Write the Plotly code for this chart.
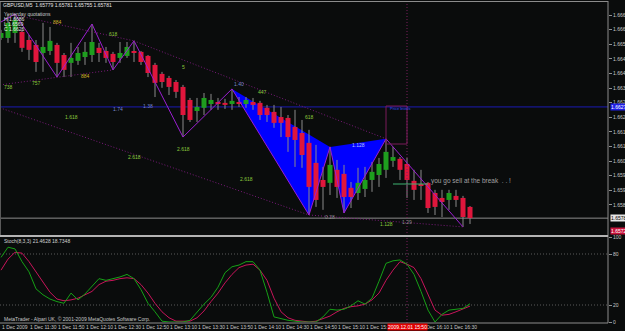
import plotly.graph_objects as go

# ---------------- data ----------------
bars = list(range(68))
opens = [1.66583, 1.66583, 1.66605, 1.66610, 1.66574, 1.66552, 1.66516, 1.66525, 1.66552, 1.66507,
         1.66472, 1.66481, 1.66498, 1.66507, 1.66539, 1.66525, 1.66512, 1.66494, 1.66503, 1.66525,
         1.66521, 1.66503, 1.66463, 1.66423, 1.66405, 1.66387, 1.66365, 1.66307, 1.66258, 1.66272,
         1.66289, 1.66298, 1.66294, 1.66289, 1.66298, 1.66289, 1.66298, 1.66294, 1.66272, 1.66254,
         1.66231, 1.66227, 1.66187, 1.66160, 1.66116, 1.66027, 1.65951, 1.65938, 1.65996, 1.65978,
         1.65916, 1.65893, 1.65911, 1.65951, 1.65973, 1.65996, 1.66036, 1.66045, 1.66022, 1.65947,
         1.65933, 1.65938, 1.65893, 1.65871, 1.65862, 1.65880, 1.65871, 1.65831]
highs = [1.66619, 1.66685, 1.66690, 1.66619, 1.66596, 1.66574, 1.66650, 1.66632, 1.66561, 1.66516,
         1.66561, 1.66543, 1.66565, 1.66645, 1.66561, 1.66543, 1.66521, 1.66565, 1.66565, 1.66570,
         1.66525, 1.66507, 1.66472, 1.66432, 1.66414, 1.66396, 1.66374, 1.66316, 1.66316, 1.66338,
         1.66334, 1.66316, 1.66312, 1.66356, 1.66320, 1.66320, 1.66316, 1.66303, 1.66285, 1.66285,
         1.66276, 1.66240, 1.66263, 1.66218, 1.66174, 1.66107, 1.66009, 1.66098, 1.66040, 1.66018,
         1.65942, 1.66005, 1.66009, 1.66031, 1.66049, 1.66134, 1.66098, 1.66053, 1.66049, 1.65996,
         1.65996, 1.65942, 1.65907, 1.65907, 1.65907, 1.65907, 1.65880, 1.65835]
lows = [1.66574, 1.66561, 1.66561, 1.66521, 1.66485, 1.66432, 1.66432, 1.66507, 1.66409, 1.66409,
        1.66409, 1.66463, 1.66463, 1.66476, 1.66476, 1.66472, 1.66441, 1.66472, 1.66494, 1.66476,
        1.66463, 1.66409, 1.66320, 1.66361, 1.66329, 1.66316, 1.66142, 1.66209, 1.66209, 1.66240,
        1.66263, 1.66263, 1.66267, 1.66263, 1.66276, 1.66272, 1.66263, 1.66218, 1.66209, 1.66183,
        1.66142, 1.66076, 1.66009, 1.66005, 1.65795, 1.65831, 1.65818, 1.65884, 1.65871, 1.65804,
        1.65826, 1.65862, 1.65875, 1.65898, 1.65920, 1.65960, 1.66009, 1.65951, 1.65871, 1.65862,
        1.65862, 1.65804, 1.65795, 1.65786, 1.65818, 1.65831, 1.65742, 1.65755]
closes = [1.66605, 1.66650, 1.66663, 1.66539, 1.66530, 1.66476, 1.66543, 1.66570, 1.66472, 1.66441,
          1.66494, 1.66516, 1.66521, 1.66565, 1.66516, 1.66494, 1.66476, 1.66516, 1.66543, 1.66516,
          1.66476, 1.66427, 1.66383, 1.66387, 1.66365, 1.66343, 1.66240, 1.66218, 1.66276, 1.66316,
          1.66307, 1.66289, 1.66285, 1.66303, 1.66289, 1.66307, 1.66285, 1.66240, 1.66240, 1.66205,
          1.66205, 1.66142, 1.66129, 1.66062, 1.65920, 1.65862, 1.65920, 1.66018, 1.65920, 1.65875,
          1.65875, 1.65938, 1.65951, 1.65987, 1.66022, 1.66076, 1.66053, 1.65996, 1.65951, 1.65907,
          1.65924, 1.65826, 1.65831, 1.65853, 1.65893, 1.65862, 1.65786, 1.65781]

stoch_k = [76, 88, 86, 71, 59, 39, 32, 27, 24, 22, 34, 26, 33, 42, 51, 49, 51, 53, 56, 51,
           38, 22, 12, 1, 0, 0, 0, 2, 12, 21, 29, 41, 58, 65, 67, 71, 71, 61, 35, 6,
           4, 2, 1, 0, 0, 0, 6, 15, 14, 15, 19, 25, 21, 28, 48, 69, 72, 73, 68, 56,
           36, 14, 0, 9, 14, 15, 16, 21.46]
stoch_d = [61, 74, 82, 81, 71, 59, 46, 35, 27, 25, 26, 28, 32, 36, 44, 48, 49, 51, 52, 51,
           44, 34, 22, 12, 5, 1, 1, 1, 5, 13, 24, 34, 46, 56, 64, 67, 68, 61, 49, 28,
           12, 5, 2, 1, 0, 1, 4, 7, 12, 16, 18, 19, 21, 26, 34, 49, 61, 71, 68, 64,
           51, 33, 14, 8, 9, 12, 15, 18.73]

# time labels (the 15:50 label sits under the red crosshair time box)
time_label_bars = [0, 4, 8, 12, 16, 20, 24, 28, 32, 36, 40, 44, 48, 52, 60, 64]
time_labels = ["1 Dec 2009", "1 Dec 11:30", "1 Dec 11:50", "1 Dec 12:10", "1 Dec 12:30", "1 Dec 12:50",
               "1 Dec 13:10", "1 Dec 13:30", "1 Dec 13:50", "1 Dec 14:10", "1 Dec 14:30", "1 Dec 14:50",
               "1 Dec 15:10", "1 Dec 15:30", "1 Dec 16:10", "1 Dec 16:30"]
price_ticks = [1.66685, 1.66620, 1.66555, 1.66490, 1.66425, 1.66360, 1.66295, 1.66230,
               1.66165, 1.66100, 1.66035, 1.65970, 1.65905, 1.65840]
stoch_ticks = [0, 20, 80, 100]
stoch_levels = [20, 80]

zigzag_bars = [0, 2, 8, 13, 16, 19, 26, 33, 44, 47, 49, 55, 66]
zigzag_prices = [1.66654, 1.66690, 1.66409, 1.66645, 1.66441, 1.66570, 1.66142, 1.66356,
                 1.65795, 1.66098, 1.65804, 1.66134, 1.65742]
xab_bars = [33, 44, 47]
xab_prices = [1.66356, 1.65795, 1.66098]
bcd_bars = [47, 49, 55]
bcd_prices = [1.66098, 1.65804, 1.66134]

trend_x0 = [19, 2, -0.14, -0.14, 44]
trend_y0 = [1.66570, 1.66685, 1.66374, 1.66272, 1.65795]
trend_x1 = [55, 19, 16, 44, 66]
trend_y1 = [1.66134, 1.66570, 1.66441, 1.65795, 1.65742]

blue_line_price = 1.66276
bid_price = 1.65781
crosshair_bar = 58
crosshair_price = 1.65724
break_line_bars = [56, 61]
break_line_price = 1.65933
prz_bars = [55, 58]
prz_prices = [1.66111, 1.66280]

label_text = ["884", "738", "757", "884", "618", "5", "1.40", "447", "618", "1.74", "1.38",
              "1.618", "2.618", "2.618", "2.618", "1.128", "0.28", "1.128", "1.29"]
label_bar = [8, 1, 5, 12, 16, 26, 34, 37.3, 44, 16.7, 21, 10, 19, 26, 35, 51, 47, 55, 58]
label_price = [1.66654, 1.66365, 1.66383, 1.66414, 1.66601, 1.66454, 1.66378, 1.66343, 1.66231,
               1.66267, 1.66280, 1.66231, 1.66053, 1.66089, 1.65956, 1.66107, 1.65786, 1.65755, 1.65764]

# ---------------- styling helpers ----------------
W, H = 625, 331
XR = 608 / W
def py(px):
    return 1 - px / H

GOLD, GRN, BLUEG, LBLUE, GRAY = '#d2b428', '#8cc83c', '#7888c8', '#b4c0ff', '#8c8c8c'
label_color = [GOLD, GRN, GRN, GOLD, GRN, GRN, BLUEG, GRN, GRN, BLUEG, BLUEG,
               GRN, GRN, GRN, GRN, LBLUE, GRAY, GRN, GRAY]
FONT = 'Liberation Sans'
BG = '#0a0c0c'
UP, DN = '#1e9e1e', '#e0163c'
DOT = '1px,2px'

fig = go.Figure()

# wicks
wx, wy = [], []
for i, h, l in zip(bars, highs, lows):
    wx += [i, i, None]
    wy += [l, h, None]
fig.add_trace(go.Scatter(x=wx, y=wy, mode='lines', line=dict(color='#8a8a8a', width=1),
                         hoverinfo='skip', xaxis='x', yaxis='y'))
# bodies
for col, cond in ((UP, lambda o, c: c >= o), (DN, lambda o, c: c < o)):
    bx, by = [], []
    for i, o, c in zip(bars, opens, closes):
        if cond(o, c):
            bx += [i, i, None]
            by += [o, c, None]
    fig.add_trace(go.Scatter(x=bx, y=by, mode='lines', line=dict(color=col, width=5),
                             hoverinfo='skip', xaxis='x', yaxis='y'))

# zigzag
fig.add_trace(go.Scatter(x=zigzag_bars, y=zigzag_prices, mode='lines',
                         line=dict(color='#9b1ed2', width=1), hoverinfo='skip', xaxis='x', yaxis='y'))

# stochastic
fig.add_trace(go.Scatter(x=bars, y=stoch_d, mode='lines', line=dict(color='#c8145a', width=1),
                         hoverinfo='skip', xaxis='x2', yaxis='y2'))
fig.add_trace(go.Scatter(x=bars, y=stoch_k, mode='lines', line=dict(color='#16a016', width=1),
                         hoverinfo='skip', xaxis='x2', yaxis='y2'))

shapes = []
# harmonic pattern triangles (background)
for bx_, bp_ in ((xab_bars, xab_prices), (bcd_bars, bcd_prices)):
    path = 'M ' + ' L '.join(f'{a},{b}' for a, b in zip(bx_, bp_)) + ' Z'
    shapes.append(dict(type='path', path=path, xref='x', yref='y', fillcolor='#0000ff',
                       line=dict(color='#0000ff', width=0), layer='below'))
# horizontal lines
shapes.append(dict(type='line', xref='paper', yref='y', x0=0, x1=XR, y0=blue_line_price, y1=blue_line_price,
                   line=dict(color='#1a1ab4', width=1), layer='below'))
shapes.append(dict(type='line', xref='paper', yref='y', x0=0, x1=XR, y0=bid_price, y1=bid_price,
                   line=dict(color='#8c8c8c', width=1), layer='below'))
# trend lines
for a, b, c, d in zip(trend_x0, trend_y0, trend_x1, trend_y1):
    shapes.append(dict(type='line', xref='x', yref='y', x0=a, y0=b, x1=c, y1=d,
                       line=dict(color='#7a1a7a', width=1, dash=DOT)))
# PRZ box
shapes.append(dict(type='rect', xref='x', yref='y', x0=prz_bars[0], x1=prz_bars[1],
                   y0=prz_prices[0], y1=prz_prices[1], line=dict(color='#7a1a5a', width=1)))
# break line
shapes.append(dict(type='line', xref='x', yref='y', x0=break_line_bars[0], x1=break_line_bars[1],
                   y0=break_line_price, y1=break_line_price, line=dict(color='#3cb371', width=1)))
# stochastic levels
for lv in stoch_levels:
    shapes.append(dict(type='line', xref='paper', yref='y2', x0=0, x1=XR, y0=lv, y1=lv,
                       line=dict(color='#5a5a5a', width=1, dash=DOT), layer='below'))
# crosshair
shapes.append(dict(type='line', xref='x', yref='paper', x0=crosshair_bar, x1=crosshair_bar,
                   y0=py(323), y1=py(2), line=dict(color='#7a1f5c', width=1, dash=DOT)))
# frame
fr = '#8c8c8c'
shapes += [
    dict(type='line', xref='paper', yref='paper', x0=0, x1=XR, y0=py(1.5), y1=py(1.5), line=dict(color=fr, width=1)),
    dict(type='line', xref='paper', yref='paper', x0=XR, x1=XR, y0=py(323), y1=py(1), line=dict(color=fr, width=1)),
    dict(type='line', xref='paper', yref='paper', x0=0, x1=XR, y0=py(323), y1=py(323), line=dict(color=fr, width=1)),
    dict(type='line', xref='paper', yref='paper', x0=0.5 / W, x1=0.5 / W, y0=py(235), y1=py(2), line=dict(color='#5a5a5a', width=1)),
    dict(type='rect', xref='paper', yref='paper', x0=0, x1=XR, y0=py(237), y1=py(235),
         fillcolor='#b4b4b4', line=dict(width=0)),
]

ann = []
def txt(x, y, s, size=5, color='#c8c8c8', xref='paper', yref='paper', xanchor='left', **kw):
    ann.append(dict(x=x, y=y, xref=xref, yref=yref, text=s, showarrow=False, xanchor=xanchor,
                    yanchor='middle', borderpad=0, font=dict(family=FONT, size=size, color=color), **kw))

txt(2 / W, py(5), 'GBPUSD,M5  1.65779 1.65781 1.65755 1.65781', color='#e6e6e6')
txt(3 / W, py(14), 'Yesterday quotations', color='#c8c8c8')
txt(3 / W, py(19), 'H 1.6686', color='#e6e6e6')
txt(3 / W, py(24), 'L 1.6569', color='#e6e6e6')
txt(3 / W, py(29), 'C 1.6626', color='#e6e6e6')
for s, b, p, c in zip(label_text, label_bar, label_price, label_color):
    txt(b, p, s, size=5, color=c, xref='x', yref='y', xanchor='center')
txt(prz_bars[0] + 0.4, 1.66267, 'Price levels', size=4, color='#3050ff', xref='x', yref='y')
txt(61.3, 1.65947, 'you go sell at the break  . . !', size=6.5, color='#a0a0a0', xref='x', yref='y')
txt(3 / W, py(241), 'Stoch(8,3,3) 21.4628 18.7348', color='#d2d2d2')
txt(3 / W, py(319), 'MetaTrader - Alpari UK, \u00a9 2001-2009 MetaQuotes Software Corp.', color='#c8c8c8')
for b, s in zip(time_label_bars, time_labels):
    txt(b, py(326.5), s, color='#c8c8c8', xref='x')
txt(crosshair_bar, py(326.5), '2009.12.01 15:50', color='#ffffff', xref='x', xanchor='center', bgcolor='#e00000')
# price labels on the right axis
txt(610 / W, blue_line_price, f'{blue_line_price:.5f}', color='#ffffff', yref='y', bgcolor='#1e1ee6')
txt(610 / W, bid_price, f'{bid_price:.5f}', color='#000000', yref='y', bgcolor='#e6e6e6')
txt(610 / W, py(231), f'{crosshair_price:.5f}', color='#ffffff', bgcolor='#c8143c')

axis_common = dict(showgrid=False, zeroline=False, automargin=False, fixedrange=True)
fig.update_layout(
    template='none', width=W, height=H, margin=dict(l=0, r=0, t=0, b=0),
    paper_bgcolor=BG, plot_bgcolor=BG, showlegend=False,
    font=dict(family=FONT, size=5, color='#c8c8c8'),
    xaxis=dict(domain=[0, XR], range=[-1 / 7, 607 / 7], showticklabels=False, ticks='',
               showline=False, anchor='y', **axis_common),
    yaxis=dict(domain=[py(235), py(2)], range=[1.65706, 1.66743], side='right', anchor='x',
               tickvals=price_ticks, ticktext=[f'{p:.5f}' for p in price_ticks],
               ticks='outside', ticklen=3, tickcolor='#909090', showline=False,
               tickfont=dict(family=FONT, size=5, color='#c8c8c8'), **axis_common),
    xaxis2=dict(domain=[0, XR], matches='x', anchor='y2', showticklabels=False, ticks='',
                showline=False, **axis_common),
    yaxis2=dict(domain=[py(322), py(237)], range=[0, 100], side='right', anchor='x2',
                tickvals=stoch_ticks, ticktext=[str(t) for t in stoch_ticks], ticks='outside',
                ticklen=3, tickcolor='#909090', showline=False,
                tickfont=dict(family=FONT, size=5, color='#c8c8c8'), **axis_common),
    shapes=shapes, annotations=ann,
)

fig.write_html('out.html', config={'displayModeBar': False})
